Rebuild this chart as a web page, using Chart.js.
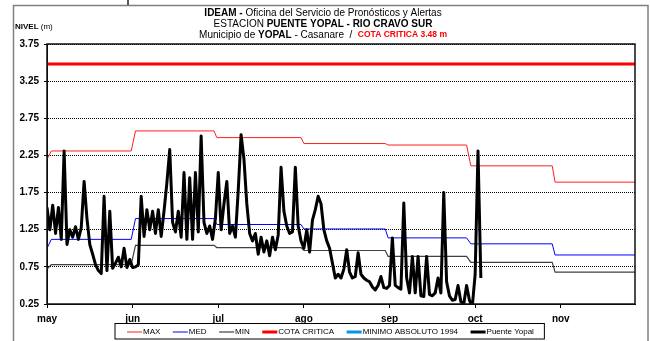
<!DOCTYPE html>
<html>
<head>
<meta charset="utf-8">
<script src="https://cdn.jsdelivr.net/npm/chart.js@4.4.0/dist/chart.umd.min.js"></script>
<style>
  body { margin: 0; background: #fff; }
  canvas { display: block; }
</style>
</head>
<body>
<canvas id="grafico" width="650" height="341"></canvas>
<script>
// Eje X: dias contados desde el 1 de mayo, una marca cada 30 dias
var meses = ['may', 'jun', 'jul', 'ago', 'sep', 'oct', 'nov'];
var diasPorMes = 30;
var ultimoDia = 206;

// Eje Y (m)
var ejeNiveles = [0.25, 0.75, 1.25, 1.75, 2.25, 2.75, 3.25, 3.75];

// Niveles historicos: dias donde cambia el valor mensual
var diasHistorico = [0, 1.5, 29.5, 31, 58.5, 59.5, 89, 90, 118.5, 119.5, 147, 148.5, 177, 178, 206];
var nivelMax = [2.20, 2.31, 2.31, 2.58, 2.58, 2.49, 2.49, 2.41, 2.41, 2.39, 2.39, 2.11, 2.11, 1.89, 1.89];
var nivelMed = [1.00, 1.12, 1.12, 1.40, 1.40, 1.32, 1.32, 1.26, 1.26, 1.14, 1.14, 1.06, 1.06, 0.91, 0.91];
var nivelMin = [0.72, 0.78, 0.78, 1.04, 1.04, 1.01, 1.01, 0.97, 0.97, 0.89, 0.89, 0.81, 0.81, 0.68, 0.68];

var cotaCritica = 3.48;
var minimoAbsoluto = 0.20;

// Lecturas diarias de la estacion Puente Yopal (1 de mayo en adelante)
var puenteYopal = [
  1.55, 1.25, 1.58, 1.20, 1.55, 1.12, 2.31, 1.05, 1.25, 1.15,
  1.29, 1.12, 1.28, 1.90, 1.40, 1.05, 0.92, 0.78, 0.70, 0.66,
  1.70, 0.70, 1.50, 0.73, 0.80, 0.88, 0.75, 1.00, 0.74, 0.85,
  0.74, 0.75, 0.78, 1.70, 1.16, 1.52, 1.25, 1.50, 1.20, 1.52,
  1.16, 1.50, 1.88, 2.33, 1.35, 1.22, 1.50, 1.15, 2.02, 1.12,
  1.95, 1.12, 2.02, 1.22, 2.51, 1.35, 1.20, 1.30, 1.12, 1.40,
  2.02, 1.25, 1.60, 1.90, 1.20, 1.30, 1.15, 1.78, 2.53, 2.20,
  1.60, 1.20, 1.10, 1.20, 0.92, 1.15, 0.95, 1.10, 0.90, 1.15,
  0.98, 1.18, 2.09, 1.50, 1.30, 1.20, 1.22, 2.09, 1.30, 1.10,
  1.00, 1.25, 0.95, 1.38, 1.52, 1.70, 1.60, 1.25, 1.10, 1.00,
  0.80, 0.60, 0.65, 0.60, 0.72, 0.98, 0.68, 0.60, 0.62, 0.94,
  0.65, 0.60, 0.57, 0.55, 0.48, 0.44, 0.50, 0.62, 0.47, 0.46,
  0.50, 1.14, 0.50, 0.47, 0.45, 1.61, 0.60, 0.40, 0.89, 0.40,
  0.89, 0.36, 0.35, 0.89, 0.38, 0.36, 0.40, 0.60, 0.40, 1.75,
  0.55, 0.36, 0.30, 0.31, 0.50, 0.28, 0.25, 0.50, 0.30, 0.22,
  0.65, 2.31, 0.60
];

var fuente = "'Liberation Sans', Arial, sans-serif";

function serie(dias, valores) {
  return dias.map(function (d, i) { return { x: d, y: valores[i] }; });
}

function constante(valor) {
  return [{ x: 0, y: valor }, { x: ultimoDia, y: valor }];
}

// Escribe una linea con tramos en negrita / color, centrada en x
function textoMixto(ctx, tramos, x, y) {
  var total = 0;
  tramos.forEach(function (t) {
    ctx.font = (t.b ? 'bold ' : '') + (t.s || 10) + 'px ' + fuente;
    t.w = ctx.measureText(t.t).width;
    total += t.w;
  });
  var px = x - total / 2;
  ctx.textBaseline = 'middle';
  ctx.textAlign = 'left';
  tramos.forEach(function (t) {
    ctx.font = (t.b ? 'bold ' : '') + (t.s || 10) + 'px ' + fuente;
    ctx.fillStyle = t.c || '#000';
    ctx.fillText(t.t, px, y);
    px += t.w;
  });
}

var marco = {
  id: 'marco',
  beforeDraw: function (chart) {
    var ctx = chart.ctx;
    ctx.save();
    ctx.fillStyle = '#fff';
    ctx.fillRect(0, 0, chart.width, chart.height);
    ctx.strokeStyle = '#808080';
    ctx.lineWidth = 1.5;
    ctx.strokeRect(13.5, 5.5, 634.5, 345);
    ctx.strokeStyle = '#222';
    ctx.beginPath();
    ctx.moveTo(128, 0);
    ctx.lineTo(128, 5);
    ctx.stroke();
    ctx.restore();
  },
  afterDraw: function (chart) {
    var ctx = chart.ctx;
    var a = chart.chartArea;
    ctx.save();

    // borde del area de trazado
    ctx.strokeStyle = '#111';
    ctx.lineWidth = 1.5;
    ctx.strokeRect(a.left, a.top, a.right - a.left, a.bottom - a.top);

    // titulos
    textoMixto(ctx, [
      { t: 'IDEAM - ', b: true },
      { t: 'Oficina del Servicio de Pronósticos y Alertas' }
    ], 323, 13.5);
    textoMixto(ctx, [
      { t: 'ESTACION ' },
      { t: 'PUENTE YOPAL - RIO CRAVO SUR', b: true }
    ], 323, 24);
    textoMixto(ctx, [
      { t: 'Municipio de ' },
      { t: 'YOPAL', b: true },
      { t: ' - Casanare  /  ' },
      { t: 'COTA CRITICA 3.48 m', b: true, c: '#ff0000', s: 8.5 }
    ], 323, 35);

    ctx.textAlign = 'left';
    ctx.fillStyle = '#000';
    ctx.font = 'bold 8px ' + fuente;
    ctx.fillText('NIVEL', 15, 26.5);
    var wn = ctx.measureText('NIVEL ').width;
    ctx.font = '8px ' + fuente;
    ctx.fillText('(m)', 15 + wn, 26.5);

    // leyenda
    var ds = chart.data.datasets;
    var x = 127, y = 332;
    ctx.font = '8px ' + fuente;
    var inicio = x - 12.5;
    ds.forEach(function (d) {
      ctx.strokeStyle = d.borderColor;
      ctx.lineWidth = d.leyendaAncho;
      ctx.beginPath();
      ctx.moveTo(x, y);
      ctx.lineTo(x + 15, y);
      ctx.stroke();
      x += 16;
      ctx.fillStyle = '#000';
      ctx.fillText(d.label, x, y);
      x += ctx.measureText(d.label).width + 12.5;
    });
    ctx.strokeStyle = '#000';
    ctx.lineWidth = 1;
    ctx.strokeRect(inicio + 0.5, 323.5, x - 2.5 - inicio, 15.5);
    ctx.restore();
  }
};

var grafico = new Chart(document.getElementById('grafico').getContext('2d'), {
  type: 'line',
  data: {
    datasets: [
      { label: 'MAX', data: serie(diasHistorico, nivelMax), borderColor: '#ff2020', borderWidth: 1, leyendaAncho: 1, order: 5 },
      { label: 'MED', data: serie(diasHistorico, nivelMed), borderColor: '#0000ff', borderWidth: 1, leyendaAncho: 1, order: 4 },
      { label: 'MIN', data: serie(diasHistorico, nivelMin), borderColor: '#404040', borderWidth: 1.2, leyendaAncho: 1.2, order: 3 },
      { label: 'COTA CRITICA', data: constante(cotaCritica), borderColor: '#ff0000', borderWidth: 3, leyendaAncho: 3, order: 2 },
      { label: 'MINIMO ABSOLUTO 1994', data: constante(minimoAbsoluto), borderColor: '#0099dd', borderWidth: 3, leyendaAncho: 3, order: 1 },
      { label: 'Puente Yopal', data: puenteYopal.map(function (v, i) { return { x: i, y: v }; }),
        borderColor: '#000', borderWidth: 3, borderJoinStyle: 'round', leyendaAncho: 3, order: 0 }
    ]
  },
  options: {
    responsive: false,
    animation: false,
    layout: { padding: { left: 0, right: 15, top: 44, bottom: 0 } },
    elements: { point: { radius: 0 }, line: { tension: 0 } },
    plugins: {
      legend: { display: false },
      title: { display: false },
      tooltip: { enabled: false }
    },
    scales: {
      x: {
        type: 'linear',
        min: 0,
        max: ultimoDia,
        afterBuildTicks: function (s) {
          s.ticks = meses.map(function (m, i) { return { value: i * diasPorMes }; });
        },
        afterFit: function (s) { s.height = 37; },
        grid: { drawOnChartArea: false, drawTicks: true, tickLength: 4, color: '#000' },
        border: { color: '#000', width: 1 },
        ticks: {
          autoSkip: false,
          maxRotation: 0,
          padding: 5,
          color: '#000',
          font: { family: fuente, size: 10, weight: 'bold' },
          callback: function (v, i) { return meses[i]; }
        }
      },
      y: {
        min: 0.25,
        max: 3.75,
        afterBuildTicks: function (s) {
          s.ticks = ejeNiveles.map(function (v) { return { value: v }; });
        },
        afterFit: function (s) { s.width = 47; },
        grid: { color: '#000', lineWidth: 1, tickLength: 3 },
        border: { color: '#000', width: 1, dash: [1, 1] },
        ticks: {
          padding: 5,
          color: '#000',
          font: { family: fuente, size: 10, weight: 'bold' },
          callback: function (v) { return v.toFixed(2); }
        }
      }
    }
  },
  plugins: [marco]
});
</script>
</body>
</html>
